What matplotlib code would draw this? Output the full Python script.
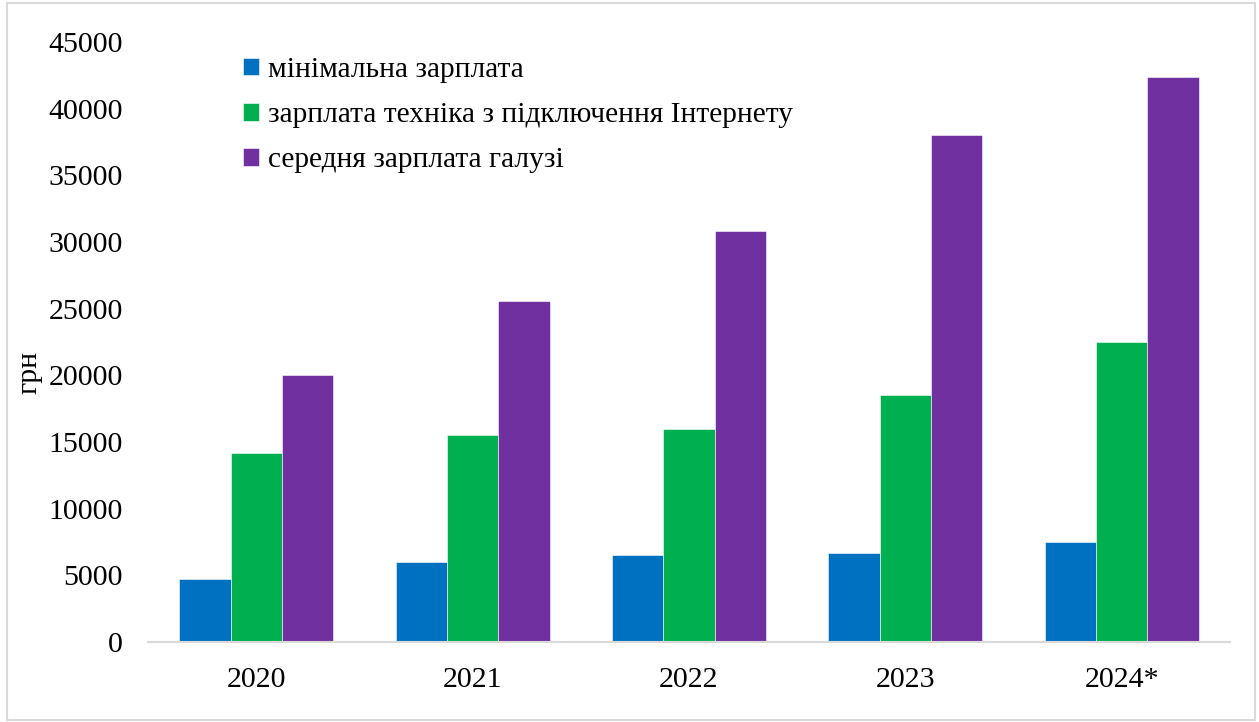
import numpy as np
import matplotlib.pyplot as plt
from matplotlib.patches import Rectangle

years = ['2020', '2021', '2022', '2023', '2024*']
min_wage = [4723, 6000, 6500, 6700, 7500]
tech_wage = [14200, 15500, 16000, 18500, 22500]
avg_wage = [20000, 25600, 30800, 38000, 42400]

series_names = ['мінімальна зарплата',
                'зарплата техніка з підключення Інтернету',
                'середня зарплата галузі']
colors = ['#0070c0', '#00b050', '#7030a0']

plt.rcParams['font.family'] = ['Liberation Serif', 'DejaVu Serif']

fig = plt.figure(figsize=(12.59, 7.22), dpi=100)
ax = fig.add_axes([148 / 1259, 80 / 722, 1082 / 1259, 600 / 722])

x = np.arange(len(years))
w = 0.237
for i, (vals, name, c) in enumerate(zip([min_wage, tech_wage, avg_wage], series_names, colors)):
    ax.bar(x + (i - 1) * w, vals, width=w, color=c, edgecolor='#ffffff',
           linewidth=0.4, label=name, zorder=2)

ax.set_xlim(-0.5, len(years) - 0.5)
ax.set_ylim(0, 45000)
ax.set_yticks(np.arange(0, 45001, 5000))
ax.set_xticks(x)
ax.set_xticklabels(years)
ax.tick_params(axis='both', length=0, labelsize=21.5, colors='black')
ax.tick_params(axis='y', pad=18)
ax.tick_params(axis='x', pad=18)
for s in ['top', 'right', 'left']:
    ax.spines[s].set_visible(False)
ax.spines['bottom'].set_color('#d9d9d9')
ax.spines['bottom'].set_linewidth(1.5)

ax.set_ylabel('грн', fontsize=21.5)
ax.yaxis.set_label_coords(-0.098, 0.45)

ax.legend(loc='upper left', bbox_to_anchor=(243 / 1259, 1 - 57 / 722),
          bbox_transform=fig.transFigure, frameon=False, fontsize=21.2,
          handlelength=0.55, handleheight=0.55, handletextpad=0.3,
          labelspacing=0.65, borderpad=0, borderaxespad=0)

fig.patches.append(Rectangle((7 / 1259, 2 / 722), 1248 / 1259, 717 / 722,
                             transform=fig.transFigure, fill=False,
                             edgecolor='#d9d9d9', linewidth=1.5))

fig.savefig('out.png', dpi=100)
